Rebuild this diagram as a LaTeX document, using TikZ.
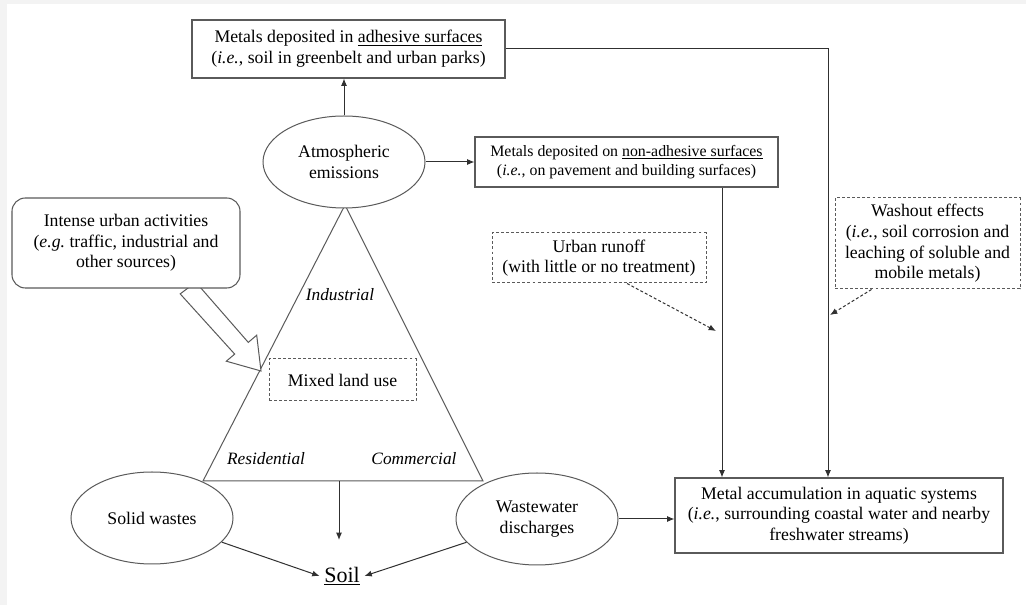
\documentclass[tikz,border=0pt]{standalone}
\usepackage{fontspec}
\setmainfont{Liberation Serif}
\usetikzlibrary{arrows.meta,shapes.geometric,calc}
\definecolor{bgray}{HTML}{F3F3F3}
\definecolor{edge}{HTML}{5A5A5A}
\definecolor{ln}{HTML}{303030}
\tikzset{
 every node/.style={font=\fontsize{13.3}{15.5}\selectfont, text=black},
 box/.style={draw=edge, line width=0.8pt, fill=white, align=center, inner sep=0pt},
 dbox/.style={draw=edge, dash pattern=on 2.2pt off 1.6pt, line width=0.75pt, fill=white, align=center, inner sep=0pt},
 oval/.style={ellipse, draw=edge, line width=0.75pt, fill=white, align=center, inner sep=0pt, minimum width=121.5pt, minimum height=69pt},
 con/.style={draw=ln, line width=0.75pt, -{Latex[length=5.5pt,width=4.5pt]}},
 dcon/.style={con, dash pattern=on 2.2pt off 1.6pt},
 lbl/.style={font=\fontsize{13}{15}\selectfont\itshape},
}
\begin{document}
\begin{tikzpicture}[x=0.75pt,y=-0.75pt]
\useasboundingbox (0,0) rectangle (1026,605);
\fill[bgray] (0,0) rectangle (1026,605);
\fill[white] (7,4) rectangle (1026,605);

% land-use triangle
\draw[edge, line width=0.75pt, line join=miter] (345,205) -- (203,481) -- (483,481) -- cycle;

% hollow arrow from urban activities
\draw[edge, line width=0.75pt, fill=white, line join=miter]
 (195.8,282.2) -- (248.3,342.4) -- (256.7,335.2) -- (261,371) -- (226.3,361.2) -- (234.7,354.1) -- (180.2,293.9) -- cycle;

% nodes
\node[box, minimum width=234.75pt, minimum height=43.5pt] (adh) at (348.5,49)
 {Metals deposited in \underline{adhesive surfaces}\\(\textit{i.e.}, soil in greenbelt and urban parks)};
\node[oval] (atm) at (344,162) {Atmospheric\\emissions};
\node[box, minimum width=227.25pt, minimum height=37.5pt, font=\fontsize{11.9}{14.5}\selectfont] (nonadh) at (626.5,162)
 {Metals deposited on \underline{non-adhesive surfaces}\\(\textit{i.e.}, on pavement and building surfaces)};
\node[box, rounded corners=10pt, minimum width=171pt, minimum height=67.5pt] (urb) at (126,243)
 {Intense urban activities\\(\textit{e.g.}\ traffic, industrial and\\other sources)};
\node[dbox, minimum width=110.25pt, minimum height=31.5pt] (mix) at (342.5,380) {Mixed land use};
\node[dbox, minimum width=160.5pt, minimum height=37.5pt] (uro) at (599,258)
 {Urban runoff\\(with little or no treatment)};
\node[dbox, minimum width=138.75pt, minimum height=68.25pt] (wo) at (927.5,243.5)
 {Washout effects\\(\textit{i.e.}, soil corrosion and\\leaching of soluble and\\mobile metals)};
\node[box, minimum width=246pt, minimum height=56.25pt] (aq) at (839,515.5)
 {Metal accumulation in aquatic systems\\(\textit{i.e.}, surrounding coastal water and nearby\\freshwater streams)};
\node[oval] (sw) at (152,518) {Solid wastes};
\node[oval] (ww) at (537,519) {Wastewater\\discharges};
\node (soil) at (342,576) {\fontsize{16.5}{18}\selectfont\underline{Soil}};

\node[lbl] (ind) at (340,295) {Industrial};
\node[lbl] (res) at (266,459) {Residential};
\node[lbl] (com) at (414,459) {Commercial};

% coordinates
\coordinate (wx) at (828,49);
\coordinate (nx) at (722,187);
\coordinate (tb) at (339,481);
\coordinate (tbe) at (339,540);
\coordinate (ut) at (716,331);
\coordinate (wt) at (830,315);

% connectors
\draw[con] (atm.north) -- (atm.north |- adh.south);
\draw[con] (atm.east) -- (atm.east -| nonadh.west);
\draw[con] (adh.east) -| (wx |- aq.north);
\draw[con] (nx |- nonadh.south) -- (nx |- aq.north);
\draw[con] (tb) -- (tbe);
\draw[con] (sw) -- (soil.west);
\draw[con] (ww) -- (soil.east);
\draw[con] (ww.east) -- (ww.east -| aq.west);
\draw[dcon] ([xshift=21pt]uro.south) -- (ut);
\draw[dcon] ([xshift=-42pt]wo.south) -- (wt);
\end{tikzpicture}
\end{document}
